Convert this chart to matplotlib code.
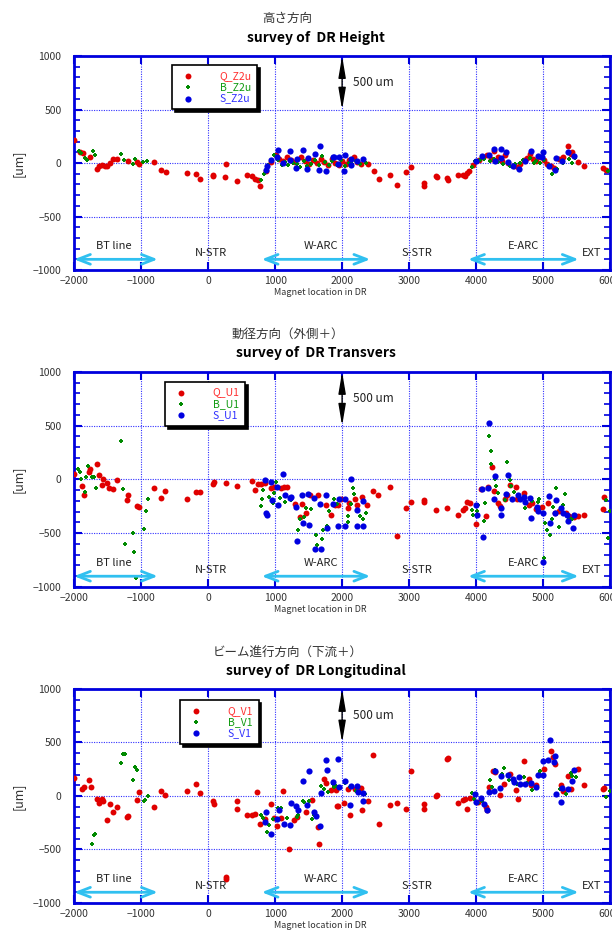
import matplotlib
matplotlib.use("Agg")
import matplotlib.pyplot as plt
from matplotlib.ticker import MultipleLocator

plt.rcParams['font.family'] = ['Noto Sans CJK JP', 'DejaVu Sans']

# ---------------- data ----------------
# Height
qz_x = [-2000, -1905, -1865, -1765, -1665, -1625, -1590, -1540, -1505, -1465, -1415, -1355, -1190, -1055, -1025,
        -805, -700, -635, -320, -185, -115, 75, 80, 265, 255, 435, 585, 660, 700, 740, 775,
        860, 945, 1010, 1060, 1125, 1185, 1240, 1300, 1385, 1440, 1500, 1560, 1620, 1680, 1730, 1790, 1850, 1900,
        1960, 2000, 2060, 2110, 2170, 2220, 2280, 2385,
        2470, 2545, 2715, 2825, 2955, 3025, 3215, 3220, 3400, 3410, 3570, 3580, 3725, 3810, 3835, 3865, 3895, 3950,
        4040, 4100, 4160, 4220, 4260, 4320, 4380, 4425, 4480, 4560, 4620, 4660, 4710, 4760, 4800, 4850, 4900, 4960,
        5010, 5060, 5110, 5160, 5230, 5300, 5365, 5410, 5435, 5520, 5610, 5895, 5935]
qz_y = [212, 105, 95, 53, -56, -31, -22, -25, -31, 0, 37, 37, 22, 6, -6,
        6, -62, -87, -97, -100, -150, -112, -125, -12, -134, -171, -115, -125, -146, -162, -218,
        -70, 10, 72, 40, 20, 53, 30, 10, 53, 20, -10, 30, 0, 40, 10, -20, 35, 0,
        -20, 15, -10, 25, 60, 10, -5, -6,
        -78, -146, -115, -202, -87, -40, -187, -212, -118, -134, -140, -156, -115, -109, -118, -93, -72, -20,
        30, 55, 75, 40, 109, 60, 20, 72, 0, -31, -40, -10, 25, 50, 84, 40, 20, 60,
        30, -10, -30, -47, 40, 60, 162, 80, 100, 9, -31, -47, -62]
bz_x = [-1925, -1890, -1840, -1805, -1715, -1680, -1305, -1250, -1125, -1090, -965, -905,
        785, 835, 900, 985, 1040, 1100, 1150, 1200, 1260, 1320, 1370, 1430, 1480, 1540, 1600, 1650, 1695, 1750,
        1800, 1850, 1920, 1980, 2050, 2100, 2150, 2200, 2270, 2350,
        3935, 3990, 4060, 4120, 4200, 4260, 4330, 4400, 4470, 4510, 4580, 4650, 4700, 4810, 4860, 4900, 4960,
        5020, 5080, 5135, 5200, 5290, 5380, 5430, 5480, 5970]
bz_y = [115, 90, 47, 31, 109, 75, 87, 25, -12, 40, 12, 16,
        -162, -100, -20, 78, 30, -20, 10, -15, 0, -10, -40, 20, -30, -5, 30, -20, 62, 10,
        -15, 20, -20, 30, -30, 5, -10, 20, -10, 0,
        -37, 20, 30, 40, 20, 40, 10, -10, 5, -30, -10, 0, 30, 50, 0, 20, 5,
        30, -20, -100, -60, 0, 40, 0, 50, -70]
sz_x = [860, 885, 945, 1035, 1045, 1125, 1225, 1215, 1310, 1325, 1410, 1475, 1495, 1595, 1675, 1660, 1765,
        1860, 1875, 1935, 1955, 2035, 2045, 2135, 2135, 2225, 2310,
        3995, 4085, 4185, 4270, 4285, 4365, 4375, 4445, 4470, 4545, 4635, 4725, 4820, 4920, 4985, 5000, 5085,
        5175, 5190, 5285, 5375, 5455]
sz_y = [-62, -31, 25, 53, 125, 0, 112, 30, -47, 37, 125, -56, 47, 87, 156, -62, -72,
        53, 53, -6, 53, -72, 78, 37, -16, 16, 37,
        16, 62, 78, 134, 16, 134, 44, 106, 6, -31, -59, 16, 115, 62, 53, 100, -31,
        -69, 44, 16, 100, 62]

# Transvers
qu_x = [-2005, -1875, -1855, -1775, -1755, -1665, -1625, -1590, -1565, -1515, -1475, -1415, -1355, -1215, -1190,
        -1055, -1025, -805, -700, -640, -320, -185, -115, 75, 85, 260, 435, 660, 695, 745, 785, 845, 935, 985,
        1085, 1130, 1185, 1295, 1375, 1395, 1460, 1515, 1635, 1760, 1835, 1895, 1935, 1985, 2085, 2110, 2195,
        2225, 2300, 2375, 2460, 2535,
        2715, 2825, 2955, 3025, 3215, 3225, 3400, 3570, 3725, 3810, 3835, 3865, 3905, 3995, 4070, 4145, 4170,
        4235, 4260, 4325, 4360, 4425, 4455, 4510, 4595, 4610, 4710, 4785, 4835, 4895, 4985, 5075, 5175, 5235,
        5335, 5385, 5455, 5525, 5610, 5895, 5910]
qu_y = [53, -62, -140, 68, 93, 140, 40, -50, 6, -31, -81, -87, -9, -192, -140,
        -251, -260, -84, -174, -105, -180, -115, -118, -40, -25, -31, -62, -16, -102, -43, -43, -37, -81, -70,
        -81, -70, -68, -226, -347, -226, -310, -149, -149, -233, -335, -233, -242, -186, -264, -217, -180,
        -239, -161, -239, -109, -140,
        -68, -527, -267, -211, -192, -211, -285, -264, -329, -285, -264, -211, -223, -412, -93, -341, -68,
        118, -109, -223, -248, -186, -140, -50, -74, -180, -130, -233, -223, -273, -257, -217, -316, -295,
        -316, -341, -347, -341, -329, -279, -161]
bu_x = [-1940, -1915, -1890, -1840, -1815, -1785, -1730, -1695, -1675, -1300, -1265, -1240, -1125, -1100,
        -1070, -955, -925, -900,
        785, 800, 820, 910, 970, 985, 1010, 1075, 1150, 1235, 1345, 1375, 1435, 1460, 1535, 1610, 1625, 1695,
        1715, 1770, 1810, 1885, 1920, 2090, 2085, 2135, 2160, 2175, 2260, 2310, 2350,
        3935, 3960, 4010, 4035, 4120, 4135, 4195, 4215, 4225, 4285, 4300, 4320, 4435, 4465, 4500, 4520, 4560,
        4635, 4735, 4835, 4925, 4945, 5015, 5035, 5050, 5100, 5125, 5140, 5195, 5235, 5295, 5320, 5375, 5395,
        5425, 5935, 5965, 6000]
bu_y = [99, 74, 0, -118, 22, 124, 22, 22, -78, 357, -87, -598, -496, -677,
        -920, -465, -295, -186,
        -251, -186, -102, -160, -223, -124, -25, -174, -205, -195, -471, -372, -347, -264, -273, -518, -614, -552,
        -471, -434, -295, -186, -230, -341, -393, -226, -78, -133, -341, -366, -310,
        -285, -326, -295, -233, -388, -217, 403, 267, 140, 6, -62, -130, -195, 161, -6, -62, -118,
        -161, -270, -202, -205, -186, -729, -403, -471, -515, -366, -254, -78, -443, -233, -133, -347, -366,
        -372, -192, -543, -295]
su_x = [845, 870, 875, 945, 950, 1035, 1045, 1125, 1145, 1215, 1235, 1310, 1325, 1395, 1420, 1485, 1510, 1575,
        1600, 1675, 1685, 1760, 1775, 1860, 1945, 1960, 2045, 2045, 2135, 2225, 2225, 2310, 2310,
        4000, 4020, 4085, 4100, 4175, 4195, 4270, 4285, 4375, 4375, 4450, 4470, 4535, 4625, 4650, 4720, 4735,
        4810, 4825, 4905, 4920, 4995, 5000, 5085, 5100, 5185, 5175, 5265, 5295, 5350, 5375, 5450, 5460]
su_y = [-9, -310, -335, -25, -192, -68, -239, 53, -146, -170, -164, -257, -573, -140, -403, -133, -419, -177,
        -645, -226, -651, -140, -456, -226, -434, -186, -434, -186, 6, -288, -434, -202, -434,
        -233, -335, -93, -536, -78, 527, -186, 31, -270, -335, -133, 43, -186, -146, -186, -161, -211,
        -174, -360, -254, -295, -310, -765, -155, -409, -192, -316, -264, -316, -335, -388, -450, -335]

# Longitudinal
qv_x = [-2000, -1875, -1855, -1775, -1750, -1665, -1625, -1590, -1565, -1515, -1465, -1415, -1355, -1215, -1190,
        -1055, -1025, -805, -700, -640, -320, -185, -115, 75, 85, 260, 270, 435, 435, 585, 660, 695, 735, 775,
        845, 935, 985, 1025, 1095, 1125, 1210, 1285, 1330, 1460, 1545, 1635, 1660, 1735, 1760, 1835, 1935,
        1910, 1925, 2025, 2095, 2115, 2195, 2210, 2285, 2300, 2385, 2465, 2545, 2715, 2825, 2955, 3025, 3215,
        3225, 3400, 3410, 3570, 3575, 3725, 3810, 3835, 3870, 3910, 4035, 4145, 4160, 4195, 4250, 4285, 4350,
        4415, 4510, 4600, 4620, 4710, 4785, 4825, 4900, 5015, 5120, 5145, 5175, 5260, 5295, 5365, 5420, 5525,
        5610, 5895, 5910]
qv_y = [169, 69, 84, 150, 84, -25, -66, -25, -44, -228, -75, -153, -103, -197, -191,
        -41, 37, -103, 44, 6, 44, 116, 28, -50, -78, -759, -775, -47, -119, -175, -181, -166, 37, -259,
        -219, -78, -210, -284, -206, 47, -494, -228, -200, -150, -41, -291, -450, 162, 120, 53, -94,
        53, -97, -62, 62, -175, 62, 62, 75, -134, -47, 381, -262, -81, -69, -122, 237, -119,
        -72, -3, 6, 347, 356, -69, -41, -25, -122, -19, -56, -100, -128, 81, 237, 225, 12,
        116, 203, 59, -25, 331, 156, 100, 100, 256, 419, 366, 300, 106, 50, 187, 66, 256,
        106, 62, 75]
bv_x = [-1730, -1700, -1690, -1300, -1265, -1245, -1125, -1095, -1065, -955, -935, -900,
        785, 825, 885, 910, 975, 1045, 1085, 1185, 1325, 1345, 1410, 1435, 1510, 1545, 1575, 1685, 1735, 1785,
        1860, 1885, 1915, 1975, 2050, 2125, 2200, 2335,
        3935, 3965, 4025, 4085, 4210, 4235, 4285, 4410, 4385, 4485, 4610, 4710, 4760, 4835, 4935, 4960, 5185,
        5250, 5335, 5410, 5435, 5495, 5945, 6000]
bv_y = [-447, -366, -360, 309, 391, 393, 153, 272, 244, -44, -40, -3,
        -175, -206, -338, -270, -212, -112, -112, -203, -197, -175, -44, -56, -50, -212, -181, 94, 69, 37,
        112, 84, 94, 84, 125, 84, 50, 16,
        28, -25, -62, -50, 147, 81, 241, 266, 209, 147, 116, 178, 125, 53, 209, 231, 22,
        69, 16, 216, 187, 181, -9, 47]
sv_x = [845, 870, 945, 1035, 1060, 1135, 1225, 1235, 1310, 1335, 1415, 1475, 1500, 1585, 1610, 1675, 1685, 1765,
        1775, 1860, 1945, 1955, 2045, 2125, 2135, 2225, 2235, 2310, 2310,
        3985, 4000, 4075, 4110, 4165, 4195, 4270, 4275, 4360, 4375, 4470, 4545, 4560, 4645, 4660, 4735, 4820,
        4900, 4920, 4995, 5000, 5075, 5095, 5165, 5175, 5195, 5265, 5285, 5375, 5435, 5460]
sv_y = [-244, -150, -356, -212, -134, -259, -269, -66, -94, -134, 144, -81, 234, -150, -190, -281, 28, 334,
        241, 131, 350, 84, 141, -81, 91, 94, 40, 28, -47,
        22, -56, -19, -72, -128, 37, 44, 231, 78, 187, 194, 162, 131, 178, 116, 116, 122,
        84, 194, 194, 331, 334, 522, 319, 375, 16, -56, 75, 69, 141, 241]

panels = [
    ("高さ方向", "survey of  DR Height", ["Q_Z2u", "B_Z2u", "S_Z2u"],
     (qz_x, qz_y), (bz_x, bz_y), (sz_x, sz_y)),
    ("動径方向（外側＋）", "survey of  DR Transvers", ["Q_U1", "B_U1", "S_U1"],
     (qu_x, qu_y), (bu_x, bu_y), (su_x, su_y)),
    ("ビーム進行方向（下流＋）", "survey of  DR Longitudinal", ["Q_V1", "B_V1", "S_V1"],
     (qv_x, qv_y), (bv_x, bv_y), (sv_x, sv_y)),
]

regions = ["BT line", "N-STR", "W-ARC", "S-STR", "E-ARC", "EXT"]
region_x = [-1400, 40, 1690, 3120, 4700, 5720]
region_y = [-780, -840, -780, -840, -780, -840]
arrow_spans = [(-2000, -750), (800, 2420), (3880, 5530)]

colors = ['#e00000', '#008a00', '#0000e0']
legend_text_colors = ['#ff3030', '#109a10', '#3030ff']

# ---------------- layout ----------------
fig = plt.figure(figsize=(6.12, 9.36), dpi=100)
ax_rects = [[0.121, 0.7115, 0.876, 0.2286],
            [0.121, 0.3729, 0.876, 0.2297],
            [0.121, 0.0353, 0.876, 0.2286]]
jp_title_y = [0.980, 0.643, 0.302]
en_title_y = [0.959, 0.623, 0.283]
xlabel_y = [0.683, 0.344, 0.006]
legend_anchor = [(0.183, 0.958), (0.170, 0.954), (0.198, 0.949)]

for i, (jp, en, labels, q, b, s) in enumerate(panels):
    ax = fig.add_axes(ax_rects[i])
    h1 = ax.scatter(q[0], q[1], s=18, color=colors[0], lw=0, zorder=3)
    h2 = ax.scatter(b[0], b[1], s=10, marker='P', color=colors[1], lw=0, zorder=4)
    h3 = ax.scatter(s[0], s[1], s=20, color=colors[2], lw=0, zorder=5)

    ax.set_xlim(-2000, 6000)
    ax.set_ylim(-1000, 1000)
    ax.xaxis.set_major_locator(MultipleLocator(1000))
    ax.yaxis.set_major_locator(MultipleLocator(500))
    ax.yaxis.set_minor_locator(MultipleLocator(100))
    ax.grid(True, which='major', color='#3030ff', linestyle=(0, (1, 1.2)), lw=0.8)
    ax.tick_params(which='both', direction='in', color='#0000dd', labelcolor='#333333',
                   top=True, right=True, labelsize=7.5)
    ax.tick_params(which='major', length=6, width=1.5)
    ax.tick_params(axis='y', which='major', pad=9)
    ax.tick_params(axis='x', which='major', pad=4)
    ax.tick_params(which='minor', length=4, width=1.2)
    for sp in ax.spines.values():
        sp.set_color('#0000dd')
        sp.set_linewidth(2)

    # region markers
    for name, rx, ry in zip(regions, region_x, region_y):
        ax.text(rx, ry, name, ha='center', va='center', fontsize=8, color='#222222', zorder=6)
    for x0, x1 in arrow_spans:
        ax.annotate('', xy=(x1, -900), xytext=(x0, -900),
                    arrowprops=dict(arrowstyle='<->,head_length=0.9,head_width=0.35',
                                    color='#30c0f0', lw=2, shrinkA=0, shrinkB=0), zorder=6)

    # 500 um scale arrow
    ax.annotate('', xy=(2000, 1000), xytext=(2000, 500),
                arrowprops=dict(arrowstyle='<|-|>,head_length=1.3,head_width=0.22',
                                color='black', lw=1, shrinkA=0, shrinkB=0))
    ax.text(2160, 755, '500 um', ha='left', va='center', fontsize=8.5, color='#222222')

    leg = ax.legend([h1, h2, h3], labels, loc='upper left', bbox_to_anchor=legend_anchor[i],
                    borderaxespad=0, fontsize=7.5, frameon=True, fancybox=False, framealpha=1,
                    edgecolor='black', shadow={'color': 'black', 'alpha': 1},
                    handlelength=2.0, handletextpad=2.0, borderpad=0.55, labelspacing=0.12,
                    scatterpoints=1)
    leg.get_frame().set_linewidth(1.2)
    for t, c in zip(leg.get_texts(), legend_text_colors):
        t.set_color(c)

    fig.text(0.47, jp_title_y[i], jp, ha='center', va='center', fontsize=9, color='#333333')
    fig.text(0.516, en_title_y[i], en, ha='center', va='center', fontsize=10, fontweight='bold')
    fig.text(0.523, xlabel_y[i], 'Magnet location in DR', ha='center', va='bottom',
             fontsize=6.5, color='#333333')
    fig.text(0.03, ax_rects[i][1] + ax_rects[i][3] / 2, '[um]', rotation=90,
             ha='center', va='center', fontsize=9, color='#333333')

fig.savefig('out.png', dpi=100)
